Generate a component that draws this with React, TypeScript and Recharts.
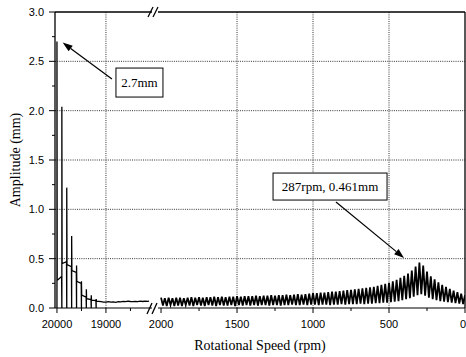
import { LineChart, Line, XAxis, YAxis, ReferenceLine, ReferenceDot } from "recharts";

// left panel (high speed, 20000 -> ~18100 rpm)
const leftRpm = [
  20000, 20000, 19995, 19905,
  19900, 19900, 19895, 19805,
  19800, 19800, 19795, 19705,
  19700, 19700, 19695, 19605,
  19600, 19600, 19595, 19505,
  19500, 19500, 19495, 19405,
  19400, 19400, 19395, 19305,
  19300, 19300, 19295, 19205,
  19200, 19200, 19195,
  19100, 19050, 19000, 18950, 18900, 18850, 18800, 18750, 18700, 18650,
  18600, 18550, 18500, 18450, 18400, 18350, 18300, 18250, 18200, 18150, 18120,
];
const leftAmp = [
  0, 2.7, 0.28, 0.32,
  0, 2.04, 0.45, 0.47,
  0, 1.22, 0.44, 0.42,
  0, 0.73, 0.38, 0.36,
  0, 0.43, 0.27, 0.25,
  0, 0.27, 0.13, 0.11,
  0, 0.19, 0.095, 0.085,
  0, 0.13, 0.08, 0.075,
  0, 0.09, 0.07,
  0.065, 0.06, 0.06, 0.065, 0.06, 0.062, 0.058, 0.065, 0.062, 0.068,
  0.064, 0.07, 0.066, 0.064, 0.068, 0.065, 0.07, 0.066, 0.07, 0.068, 0.07,
];

// right panel (2000 -> 0 rpm): oscillation peaks and troughs
const peakRpm = [
  2000, 1975, 1950, 1925, 1900, 1875, 1850, 1825, 1800, 1775, 1750, 1725, 1700, 1675,
  1650, 1625, 1600, 1575, 1550, 1525, 1500, 1475, 1450, 1425, 1400, 1375, 1350, 1325,
  1300, 1275, 1250, 1225, 1200, 1175, 1150, 1125, 1100, 1075, 1050, 1025, 1000,
  975, 950, 925, 900, 875, 850, 825, 800, 775, 750, 725, 700, 675, 650, 625, 600,
  575, 550, 525, 500, 475, 450, 425, 400, 375, 350, 325, 300, 275, 250, 225, 200,
  175, 150, 125, 100, 75, 50, 25, 0,
];
const peakAmp = [
  0.105, 0.1, 0.105, 0.1, 0.105, 0.105, 0.1, 0.105, 0.11, 0.105, 0.11, 0.105, 0.11, 0.11,
  0.115, 0.11, 0.115, 0.11, 0.115, 0.115, 0.12, 0.115, 0.12, 0.12, 0.12, 0.125, 0.12, 0.125,
  0.125, 0.13, 0.125, 0.13, 0.13, 0.135, 0.13, 0.135, 0.14, 0.135, 0.14, 0.145, 0.15,
  0.15, 0.155, 0.155, 0.16, 0.165, 0.165, 0.17, 0.175, 0.18, 0.185, 0.19, 0.195, 0.2, 0.205, 0.21, 0.215,
  0.225, 0.235, 0.245, 0.255, 0.27, 0.285, 0.305, 0.325, 0.35, 0.38, 0.42, 0.461, 0.43, 0.37, 0.32, 0.29,
  0.26, 0.235, 0.215, 0.195, 0.175, 0.16, 0.145, 0.13,
];
const troughRpm = [
  1987.5, 1962.5, 1937.5, 1912.5, 1887.5, 1862.5, 1837.5, 1812.5, 1787.5, 1762.5,
  1737.5, 1712.5, 1687.5, 1662.5, 1637.5, 1612.5, 1587.5, 1562.5, 1537.5, 1512.5,
  1487.5, 1462.5, 1437.5, 1412.5, 1387.5, 1362.5, 1337.5, 1312.5, 1287.5, 1262.5,
  1237.5, 1212.5, 1187.5, 1162.5, 1137.5, 1112.5, 1087.5, 1062.5, 1037.5, 1012.5,
  987.5, 962.5, 937.5, 912.5, 887.5, 862.5, 837.5, 812.5, 787.5, 762.5,
  737.5, 712.5, 687.5, 662.5, 637.5, 612.5, 587.5, 562.5, 537.5, 512.5,
  487.5, 462.5, 437.5, 412.5, 387.5, 362.5, 337.5, 312.5, 287.5, 262.5,
  237.5, 212.5, 187.5, 162.5, 137.5, 112.5, 87.5, 62.5, 37.5, 12.5,
];
const troughAmp = [
  0.025, 0.02, 0.03, 0.02, 0.025, 0.02, 0.03, 0.025, 0.02, 0.03,
  0.025, 0.02, 0.03, 0.025, 0.02, 0.03, 0.025, 0.025, 0.03, 0.02,
  0.03, 0.025, 0.03, 0.025, 0.03, 0.025, 0.03, 0.03, 0.025, 0.03,
  0.03, 0.025, 0.03, 0.03, 0.035, 0.03, 0.03, 0.035, 0.03, 0.035,
  0.035, 0.03, 0.035, 0.035, 0.03, 0.035, 0.035, 0.04, 0.035, 0.04,
  0.04, 0.04, 0.045, 0.04, 0.045, 0.045, 0.05, 0.05, 0.055, 0.055,
  0.06, 0.065, 0.07, 0.08, 0.09, 0.1, 0.115, 0.13, 0.14, 0.125,
  0.105, 0.09, 0.08, 0.07, 0.065, 0.06, 0.055, 0.05, 0.045, 0.04,
];

const yTicks = [0, 0.25, 0.5, 0.75, 1, 1.25, 1.5, 1.75, 2, 2.25, 2.5, 2.75, 3];
const yLabels = [0, 0.5, 1, 1.5, 2, 2.5, 3];
const gridAmp = [0.5, 1, 1.5, 2, 2.5];
const leftTicks = [20000, 19500, 19000, 18500];
const leftLabels = [20000, 19000];
const leftGrid = [19000];
const rightTicks = [2000, 1750, 1500, 1250, 1000, 750, 500, 250, 0];
const rightLabels = [2000, 1500, 1000, 500, 0];
const rightGrid = [1500, 1000, 500];

// annotations: [rpm, amp]
const maxNote = { text: "2.7mm", box: [18316, 2.285], tail: [18878, 2.32], tip: [19884, 2.69] };
const peakNote = { text: "287rpm, 0.461mm", box: [888, 1.231], tail: [849, 1.074], tip: [401, 0.507] };

const leftData = leftRpm.map((rpm, i) => ({ rpm, amp: leftAmp[i] }));
const rightData: { rpm: number; amp: number }[] = [];
peakRpm.forEach((rpm, i) => {
  rightData.push({ rpm, amp: peakAmp[i] });
  if (i < troughRpm.length) rightData.push({ rpm: troughRpm[i], amp: troughAmp[i] });
});

const W = 466;
const H = 357;
const INK = "#000";
const GRID = "#333";
const DOTS = "1 1.2";
const sans = '"Liberation Sans", Arial, sans-serif';
const serif = '"Liberation Serif", "Times New Roman", serif';

const xTick = (labels: number[], edge?: number) => (p: any) => {
  const v = p.payload.value;
  const major = labels.includes(v);
  // the label sitting on the right border is pulled inside so it is not cut
  const atEdge = v === edge;
  return (
    <g>
      <line x1={p.x} x2={p.x} y1={p.y} y2={p.y + (major ? 5 : 3)} stroke={INK} />
      {major && (
        <text
          x={atEdge ? p.x + 1 : p.x}
          y={p.y + 12}
          dy="0.71em"
          textAnchor={atEdge ? "end" : "middle"}
          fontFamily={sans}
          fontSize={11}
          fill={INK}
        >
          {v}
        </text>
      )}
    </g>
  );
};

const yTick = (p: any) => {
  const v = p.payload.value;
  const major = yLabels.includes(v);
  return (
    <g>
      <line x1={p.x - (major ? 6 : 3)} x2={p.x} y1={p.y} y2={p.y} stroke={INK} />
      {major && (
        <text x={p.x - 11} y={p.y} dy="0.36em" textAnchor="end" fontFamily={sans} fontSize={11} fill={INK}>
          {v.toFixed(1)}
        </text>
      )}
    </g>
  );
};

const noteBox = (text: string, w: number, h: number) => (p: any) => (
  <g>
    <rect x={p.cx - w / 2} y={p.cy - h / 2} width={w} height={h} fill="#fff" stroke={INK} strokeWidth={1} />
    <text x={p.cx} y={p.cy} dy="0.35em" textAnchor="middle" fontFamily={serif} fontSize={13} fill={INK}>
      {text}
    </text>
  </g>
);

const arrow = (p: any) => {
  const { x1, y1, x2, y2 } = p;
  const a = Math.atan2(y2 - y1, x2 - x1);
  const bx = x2 - 10 * Math.cos(a);
  const by = y2 - 10 * Math.sin(a);
  const ox = 3.5 * Math.sin(a);
  const oy = -3.5 * Math.cos(a);
  return (
    <g>
      <line x1={x1} y1={y1} x2={bx} y2={by} stroke={INK} strokeWidth={1.2} />
      <polygon points={`${x2},${y2} ${bx + ox},${by + oy} ${bx - ox},${by - oy}`} fill={INK} />
    </g>
  );
};

function RightPanel() {
  return (
    <LineChart width={W} height={H} data={rightData} margin={{ top: 12, right: 1, left: 158, bottom: 29 }}>
      <XAxis
        dataKey="rpm"
        type="number"
        domain={[0, 2020]}
        reversed
        allowDataOverflow
        ticks={rightTicks}
        interval={0}
        tickSize={0}
        tickMargin={0}
        height={20}
        tick={xTick(rightLabels, 0)}
        tickLine={false}
        axisLine={{ stroke: INK, strokeWidth: 1.2 }}
      />
      <YAxis hide type="number" domain={[0, 3]} />
      {gridAmp.map((g) => (
        <ReferenceLine
          key={g}
          segment={[{ x: 2060, y: g }, { x: 0, y: g }]}
          ifOverflow="visible"
          stroke={GRID}
          strokeDasharray={DOTS}
        />
      ))}
      {rightGrid.map((g) => (
        <ReferenceLine key={g} x={g} stroke={GRID} strokeDasharray={DOTS} />
      ))}
      <ReferenceLine y={3} stroke={INK} strokeWidth={1.3} />
      <ReferenceLine x={0} stroke={INK} strokeWidth={1.3} />
      <Line dataKey="amp" type="linear" stroke={INK} strokeWidth={1.8} dot={false} isAnimationActive={false} />
      <ReferenceLine
        segment={[{ x: peakNote.tail[0], y: peakNote.tail[1] }, { x: peakNote.tip[0], y: peakNote.tip[1] }]}
        ifOverflow="visible"
        shape={arrow}
      />
      <ReferenceDot x={peakNote.box[0]} y={peakNote.box[1]} ifOverflow="visible" shape={noteBox(peakNote.text, 114, 27)} />
    </LineChart>
  );
}

function LeftPanel() {
  return (
    <LineChart width={W} height={H} data={leftData} margin={{ top: 12, right: W - 152, left: 0, bottom: 29 }}>
      <XAxis
        dataKey="rpm"
        type="number"
        domain={[18060, 20040]}
        reversed
        allowDataOverflow
        ticks={leftTicks}
        interval={0}
        tickSize={0}
        tickMargin={0}
        height={20}
        tick={xTick(leftLabels)}
        tickLine={false}
        axisLine={{ stroke: INK, strokeWidth: 1.2 }}
      />
      <YAxis
        type="number"
        domain={[0, 3]}
        ticks={yTicks}
        interval={0}
        width={55}
        tickSize={0}
        tickMargin={0}
        tick={yTick}
        tickLine={false}
        axisLine={{ stroke: INK, strokeWidth: 1.3 }}
      />
      {gridAmp.map((g) => (
        <ReferenceLine key={g} y={g} stroke={GRID} strokeDasharray={DOTS} />
      ))}
      {leftGrid.map((g) => (
        <ReferenceLine key={g} x={g} stroke={GRID} strokeDasharray={DOTS} />
      ))}
      <ReferenceLine y={3} stroke={INK} strokeWidth={1.3} />
      <Line dataKey="amp" type="linear" stroke={INK} strokeWidth={1.3} dot={false} isAnimationActive={false} />
      <ReferenceLine
        segment={[{ x: maxNote.tail[0], y: maxNote.tail[1] }, { x: maxNote.tip[0], y: maxNote.tip[1] }]}
        ifOverflow="visible"
        shape={arrow}
      />
      <ReferenceDot x={maxNote.box[0]} y={maxNote.box[1]} ifOverflow="visible" shape={noteBox(maxNote.text, 47, 29)} />
    </LineChart>
  );
}

export default function App() {
  return (
    <div style={{ position: "absolute", left: 0, top: 0, width: W, height: H, background: "#fff" }}>
      <div style={{ position: "absolute", left: 0, top: 0 }}>
        <RightPanel />
      </div>
      <div style={{ position: "absolute", left: 0, top: 0 }}>
        <LeftPanel />
      </div>
      <svg width={W} height={H} style={{ position: "absolute", left: 0, top: 0, pointerEvents: "none" }}>
        {/* axis break marks */}
        <g stroke={INK} strokeWidth={1.3}>
          <line x1={148} y1={17} x2={153} y2={7} />
          <line x1={153} y1={17} x2={158} y2={7} />
          <line x1={147} y1={314} x2={152} y2={303} />
          <line x1={152} y1={314} x2={157} y2={303} />
        </g>
        <text x={260} y={350} textAnchor="middle" fontFamily={serif} fontSize={14} fill={INK}>
          Rotational Speed (rpm)
        </text>
        <text
          transform="translate(15,160) rotate(-90)"
          dy="0.35em"
          textAnchor="middle"
          fontFamily={serif}
          fontSize={14}
          fill={INK}
        >
          Amplitude (mm)
        </text>
      </svg>
    </div>
  );
}
